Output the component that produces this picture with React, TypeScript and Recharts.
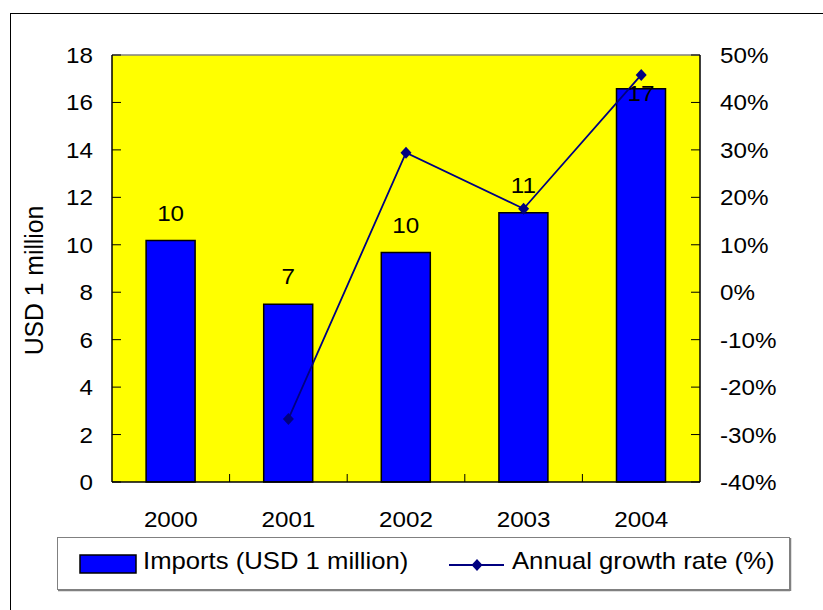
import React from 'react';
import { ComposedChart, Bar, Line, XAxis, YAxis, CartesianGrid, Legend, LabelList, ReferenceLine } from 'recharts';

const years = ['2000', '2001', '2002', '2003', '2004'];
const imports = [10.18, 7.49, 9.67, 11.35, 16.58];
const growthRate = [null, -26.7, 29.4, 17.6, 45.8];
const leftTicks = [0, 2, 4, 6, 8, 10, 12, 14, 16, 18];
const rightTicks = [-40, -30, -20, -10, 0, 10, 20, 30, 40, 50];
const seriesNames = ['Imports (USD 1 million)', 'Annual growth rate (%)'];
const axisTitle = 'USD 1 million';

const data = years.map((year, i) => ({ year, imports: imports[i], growth: growthRate[i] }));

const W = 823;
const H = 610;
const LEFT = 112;
const RIGHT = 123;
const TOP = 55;
const BOTTOM = 128;
const FONT = '"Liberation Sans", Arial, sans-serif';
const band = (W - LEFT - RIGHT) / years.length;

// the reference text is a little wider than Arial, so stretch it sideways
const Stretched = ({ x, y, anchor = 'middle', size = 22, sx = 1.1, children }: any) => (
  <text
    transform={`translate(${x},${y}) scale(${sx},1)`}
    textAnchor={anchor}
    fontSize={size}
    fontFamily={FONT}
    fill="#000"
  >
    {children}
  </text>
);

const LeftTick = ({ x, y, payload }: any) => (
  <g>
    <line x1={x} x2={x + 9} y1={y} y2={y} stroke="#000" />
    <Stretched x={x - 19} y={y + 8} anchor="end">{payload.value}</Stretched>
  </g>
);

const RightTick = ({ x, y, payload }: any) => (
  <g>
    <line x1={x - 9} x2={x} y1={y} y2={y} stroke="#000" />
    <Stretched x={x + 20} y={y + 8} anchor="start">{`${payload.value}%`}</Stretched>
  </g>
);

const XTick = ({ x, y, payload, index }: any) => (
  <g>
    {index > 0 && <line x1={x - band / 2} x2={x - band / 2} y1={y - 8} y2={y} stroke="#000" />}
    <Stretched x={x} y={y + 45}>{payload.value}</Stretched>
  </g>
);

const BarValue = ({ x, y, width, value }: any) => {
  const above = y - 20;
  // no room above the tallest bar, so it goes inside like in Excel
  const baseline = above - 16 < TOP ? y + 12 : above;
  return <Stretched x={x + width / 2} y={baseline}>{Math.round(value)}</Stretched>;
};

const Diamond = ({ cx, cy }: any) => {
  if (cx == null || cy == null) return null;
  return (
    <polygon
      points={`${cx},${cy - 6} ${cx + 5.5},${cy} ${cx},${cy + 6} ${cx - 5.5},${cy}`}
      fill="#000080"
    />
  );
};

const LegendBox = () => (
  <svg width={736} height={56} style={{ display: 'block' }}>
    <rect x={0.5} y={0.5} width={732} height={52} fill="#fff" stroke="#808080" />
    <line x1={1} x2={733} y1={53.5} y2={53.5} stroke="#808080" strokeWidth={1.5} />
    <line x1={733.5} x2={733.5} y1={1} y2={54} stroke="#808080" strokeWidth={1.5} />
    <rect x={23} y={18} width={56} height={18} fill="#0000FF" stroke="#000" strokeWidth={1.5} />
    <Stretched x={86} y={32} anchor="start" size={24} sx={1.07}>{seriesNames[0]}</Stretched>
    <line x1={392} x2={447} y1={28} y2={28} stroke="#000080" strokeWidth={1.8} />
    <Diamond cx={420} cy={28} />
    <Stretched x={455} y={32} anchor="start" size={24} sx={1.07}>{seriesNames[1]}</Stretched>
  </svg>
);

export default function App() {
  return (
    <div style={{ position: 'absolute', left: 0, top: 0, width: W, height: H, overflow: 'hidden', background: '#fff' }}>
      <div
        style={{
          position: 'absolute',
          left: 10,
          top: 13,
          width: 900,
          height: 700,
          borderLeft: '1px solid #000',
          borderTop: '1px solid #000',
        }}
      />
      <div style={{ position: 'absolute', left: 0, top: 0 }}>
        <ComposedChart
          width={W}
          height={H}
          data={data}
          margin={{ top: TOP, right: 0, bottom: 0, left: 0 }}
          barCategoryGap="29%"
        >
          <CartesianGrid horizontal={false} vertical={false} fill="#FFFF00" />
          <XAxis
            dataKey="year"
            height={BOTTOM}
            tickSize={0}
            tickMargin={0}
            tickLine={false}
            axisLine={{ stroke: '#000', strokeWidth: 1.5 }}
            tick={<XTick />}
            interval={0}
          />
          <YAxis
            yAxisId="left"
            width={LEFT}
            domain={[0, 18]}
            ticks={leftTicks}
            interval={0}
            tickSize={0}
            tickMargin={0}
            tickLine={false}
            axisLine={{ stroke: '#000', strokeWidth: 1.5 }}
            tick={<LeftTick />}
          />
          <YAxis
            yAxisId="right"
            orientation="right"
            width={RIGHT}
            domain={[-40, 50]}
            ticks={rightTicks}
            interval={0}
            tickSize={0}
            tickMargin={0}
            tickLine={false}
            axisLine={{ stroke: '#000', strokeWidth: 1.5 }}
            tick={<RightTick />}
          />
          <ReferenceLine yAxisId="left" y={18} stroke="#808080" strokeWidth={1.5} />
          <Legend
            layout="horizontal"
            verticalAlign="middle"
            align="center"
            content={<LegendBox />}
            wrapperStyle={{ left: 57, top: 537, width: 736, height: 56 }}
          />
          <Bar
            yAxisId="left"
            dataKey="imports"
            name={seriesNames[0]}
            fill="#0000FF"
            stroke="#000"
            strokeWidth={1.5}
            isAnimationActive={false}
          >
            <LabelList dataKey="imports" content={<BarValue />} />
          </Bar>
          <Line
            yAxisId="right"
            dataKey="growth"
            name={seriesNames[1]}
            stroke="#000080"
            strokeWidth={1.8}
            dot={<Diamond />}
            activeDot={false}
            isAnimationActive={false}
          />
        </ComposedChart>
      </div>
      <svg width={60} height={H} style={{ position: 'absolute', left: 0, top: 0 }}>
        <text
          transform="translate(43,280.5) rotate(-90) scale(1.03,1.1)"
          textAnchor="middle"
          fontSize={24}
          fontFamily={FONT}
          fill="#000"
        >
          {axisTitle}
        </text>
      </svg>
    </div>
  );
}
